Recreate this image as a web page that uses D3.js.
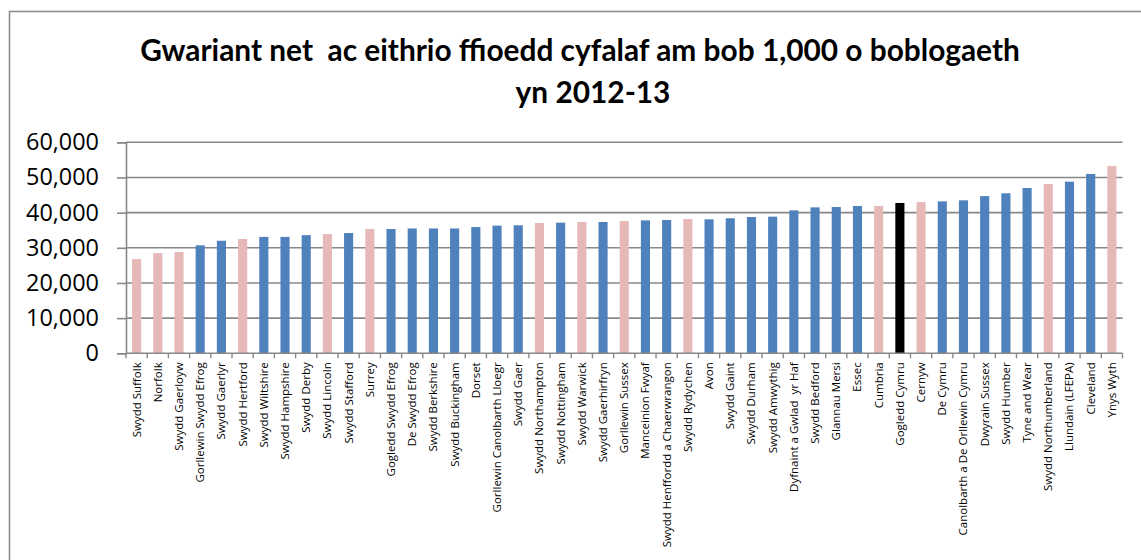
<!DOCTYPE html>
<html><head><meta charset="utf-8">
<script src="https://cdn.jsdelivr.net/npm/d3@7"></script>
<style>body{margin:0;background:#fff;overflow:hidden}svg{display:block}</style>
</head><body>
<svg id="c" width="1141" height="560"></svg>
<script>
const titleLines = ["Gwariant net  ac eithrio ffioedd cyfalaf am bob 1,000 o boblogaeth", "yn 2012-13"];
const categories = ["Swydd Suffolk","Norfolk","Swydd Gaerloyw","Gorllewin Swydd Efrog","Swydd Gaerlyr","Swydd Hertford","Swydd Wiltshire","Swydd Hampshire","Swydd Derby","Swydd Lincoln","Swydd Stafford","Surrey","Gogledd Swydd Efrog","De Swydd Efrog","Swydd Berkshire","Swydd Buckingham","Dorset","Gorllewin Canolbarth Lloegr","Swydd Gaer","Swydd Northampton","Swydd Nottingham","Swydd Warwick","Swydd Gaerhirfryn","Gorllewin Sussex","Manceinion Fwyaf","Swydd Henffordd a Chaerwrangon","Swydd Rydychen","Avon","Swydd Gaint","Swydd Durham","Swydd Amwythig","Dyfnaint a Gwlad  yr Haf","Swydd Bedford","Glannau Mersi","Essec","Cumbria","Gogledd Cymru","Cernyw","De Cymru","Canolbarth a De Orllewin Cymru","Dwyrain Sussex","Swydd Humber","Tyne and Wear","Swydd Northumberland","Llundain (LFEPA)","Cleveland","Ynys Wyth"];
const values = [26800,28500,28800,30700,32000,32500,33100,33100,33600,33900,34200,35350,35350,35500,35500,35500,35900,36300,36400,37050,37150,37350,37350,37600,37800,37900,38200,38100,38400,38750,38850,40650,41500,41600,41900,41900,42750,43000,43200,43500,44700,45500,47000,48150,48800,51000,53250];
// group: 0 = blue, 1 = pink, 2 = highlighted (black)
const groups = [1,1,1,0,0,1,0,0,0,1,0,1,0,0,0,0,0,0,0,1,0,1,0,1,0,0,1,0,0,0,0,0,0,0,0,1,2,1,0,0,0,0,0,1,0,0,1];
const yTicks = [0,10000,20000,30000,40000,50000,60000];
const colors = ["#4f81bd","#e6b9b8","#000000"];

const svg = d3.select("#c");
const L = 126, R = 1122.5, T = 142.3, B = 353.3;
const x = d3.scaleBand().domain(categories).range([L, R]).paddingInner(0.57).paddingOuter(0.285);
const y = d3.scaleLinear().domain([0, 60000]).range([B, T]);
const fmt = d3.format(",");

function fit(sel, target) {
  const w = sel.node().getComputedTextLength();
  const fs = parseFloat(sel.attr("font-size"));
  sel.attr("font-size", fs * target / w);
}

// frame
svg.append("rect").attr("x", 9.5).attr("y", 11.5).attr("width", 1200).attr("height", 600)
  .attr("fill", "none").attr("stroke", "#8c8c8c").attr("stroke-width", 1.6);

// title
const t1 = svg.append("text").attr("x", 580).attr("y", 61).attr("text-anchor", "middle")
  .attr("font-family", "Lato, 'Open Sans', sans-serif").attr("font-weight", "bold")
  .attr("font-size", 26).attr("fill", "#000").style("white-space", "pre").text(titleLines[0]);
fit(t1, 880);
const t2 = svg.append("text").attr("x", 593).attr("y", 103).attr("text-anchor", "middle")
  .attr("font-family", "Lato, 'Open Sans', sans-serif").attr("font-weight", "bold")
  .attr("font-size", t1.attr("font-size")).attr("fill", "#000").text(titleLines[1]);

// gridlines
svg.append("g").selectAll("line").data(yTicks.slice(1)).join("line")
  .attr("x1", L).attr("x2", R).attr("y1", d => y(d)).attr("y2", d => y(d))
  .attr("stroke", "#888").attr("stroke-width", 1.6);

// y axis
const ya = svg.append("g").attr("transform", `translate(${L},0)`)
  .call(d3.axisLeft(y).tickValues(yTicks).tickFormat(fmt).tickSize(9).tickPadding(18));
ya.select(".domain").attr("stroke", "#888").attr("stroke-width", 1.6);
ya.selectAll(".tick line").attr("stroke", "#888").attr("stroke-width", 1.6);
ya.selectAll(".tick text").attr("font-family", "'Open Sans', sans-serif").attr("font-size", 22).attr("fill", "#000");
{
  const tt = ya.selectAll(".tick text").filter(d => d === 60000);
  const w = tt.node().getComputedTextLength();
  ya.selectAll(".tick text").attr("font-size", 22 * 73 / w);
}

// bars
svg.append("g").selectAll("rect").data(categories).join("rect")
  .attr("x", d => x(d)).attr("width", x.bandwidth())
  .attr("y", (d, i) => y(values[i])).attr("height", (d, i) => B - y(values[i]))
  .attr("fill", (d, i) => colors[groups[i]]);

// x axis
const step = x.step();
const xa = svg.append("g").attr("transform", `translate(0,${B})`);
xa.append("line").attr("x1", L).attr("x2", R).attr("stroke", "#888").attr("stroke-width", 1.6);
xa.selectAll("line.tk").data(d3.range(categories.length + 1)).join("line").attr("class", "tk")
  .attr("x1", i => L + i * step).attr("x2", i => L + i * step).attr("y1", 0).attr("y2", 5)
  .attr("stroke", "#888").attr("stroke-width", 1.4);
const labels = xa.selectAll("text").data(categories).join("text")
  .attr("transform", d => `translate(${x(d) + x.bandwidth() / 2 + 4},9) rotate(-90)`)
  .attr("text-anchor", "end").attr("font-family", "'Open Sans', sans-serif")
  .attr("font-size", 11).attr("fill", "#000").style("white-space", "pre").text(d => d);
{
  const lng = labels.filter(d => d === "Swydd Henffordd a Chaerwrangon");
  const w = lng.node().getComputedTextLength();
  labels.attr("font-size", 11 * 185 / w);
}
</script>
</body></html>
